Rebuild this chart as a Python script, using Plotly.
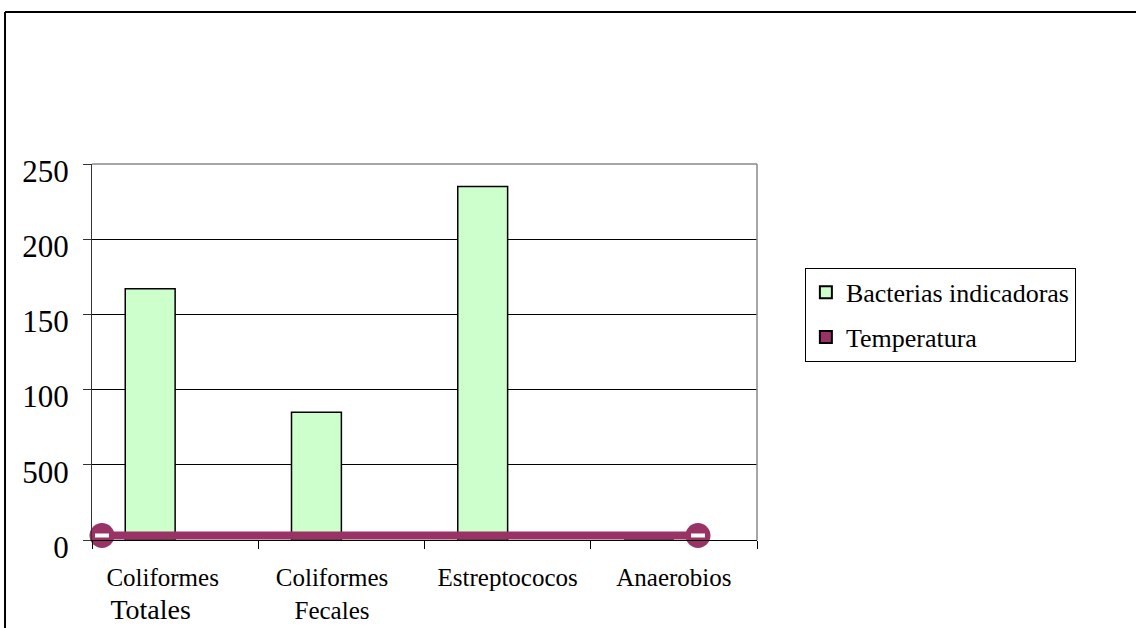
import plotly.graph_objects as go

NB = "\u00a0"
categories = ["Coliformes" + NB * 4 + "<br><span style='font-size:28px'>Totales" + NB * 7 + "</span>",
              "Coliformes" + NB * 3 + "<br>Fecales" + NB * 3, "Estreptococos", "Anaerobios"]
bacterias = [167, 85, 235, 0]
temperatura_legend = [None, None, None, None]
temp_x = [-0.44, 3.145]
temp_y = [3, 3]
y_tickvals = [0, 50, 100, 150, 200, 250]
y_ticktext = ["0", "500", "100", "150", "200", "250"]

FONT = "Liberation Serif, Times New Roman, serif"
PLUM = "#993366"

fig = go.Figure()
fig.add_trace(go.Bar(x=categories, y=bacterias, name="Bacterias indicadoras",
                     legendgroup="a",
                     marker=dict(color="#CCFFCC", line=dict(color="black", width=1.5))))
fig.add_trace(go.Bar(x=categories, y=temperatura_legend, name="Temperatura",
                     legendgroup="b",
                     marker=dict(color=PLUM, line=dict(color="black", width=1.5))))
fig.add_trace(go.Scatter(x=temp_x, y=temp_y, xaxis="x2", mode="lines+markers",
                         line=dict(color=PLUM, width=8), cliponaxis=False,
                         marker=dict(color=PLUM, size=25, symbol="circle"),
                         showlegend=False, hoverinfo="skip"))
fig.add_trace(go.Scatter(x=temp_x, y=temp_y, xaxis="x2", mode="markers",
                         cliponaxis=False,
                         marker=dict(symbol="line-ew", size=10,
                                     line=dict(color="white", width=4)),
                         showlegend=False, hoverinfo="skip"))

fig.update_layout(
    width=1136, height=628,
    margin=dict(l=92, r=379, t=164, b=88, autoexpand=False),
    paper_bgcolor="white", plot_bgcolor="white",
    barmode="group", bargap=0.4, bargroupgap=0,
    font=dict(family=FONT, color="black"),
    showlegend=True,
    legend=dict(x=1.072, y=0.724, xanchor="left", yanchor="top",
                bordercolor="black", borderwidth=1, traceorder="grouped",
                font=dict(family=FONT, size=26, color="black"),
                tracegroupgap=8, itemsizing="constant"),
    xaxis=dict(type="category", showline=True, linecolor="black", linewidth=1,
               ticks="outside", tickson="boundaries", ticklen=8, tickcolor="black",
               ticklabelstandoff=15, automargin=False,
               tickfont=dict(family=FONT, size=25, color="black"),
               showgrid=False, zeroline=False),
    xaxis2=dict(overlaying="x", range=[-0.5, 3.5], visible=False),
    yaxis=dict(range=[0, 250], tickvals=y_tickvals, ticktext=y_ticktext,
               showline=True, linecolor="#333333", linewidth=1,
               ticks="outside", ticklen=8, tickcolor="#333333",
               ticklabelstandoff=8, ticklabelshift=7, automargin=False,
               showgrid=True, gridcolor="black", gridwidth=1, zeroline=False,
               tickfont=dict(family=FONT, size=31, color="black")),
    shapes=[
        dict(type="line", xref="paper", yref="paper", x0=0, x1=1, y0=1, y1=1,
             line=dict(color="#888888", width=1.5)),
        dict(type="line", xref="paper", yref="paper", x0=1, x1=1, y0=0, y1=1,
             line=dict(color="#888888", width=1.5)),
        dict(type="line", xref="paper", yref="paper", x0=-0.1308, x1=1.7, y0=1.4043, y1=1.4043,
             line=dict(color="black", width=2)),
        dict(type="line", xref="paper", yref="paper", x0=-0.1308, x1=-0.1308, y0=-0.4, y1=1.4043,
             line=dict(color="black", width=2)),
    ],
)

fig.write_html("out.html", config={"displayModeBar": False},
               post_script="document.body.style.margin='0';")
